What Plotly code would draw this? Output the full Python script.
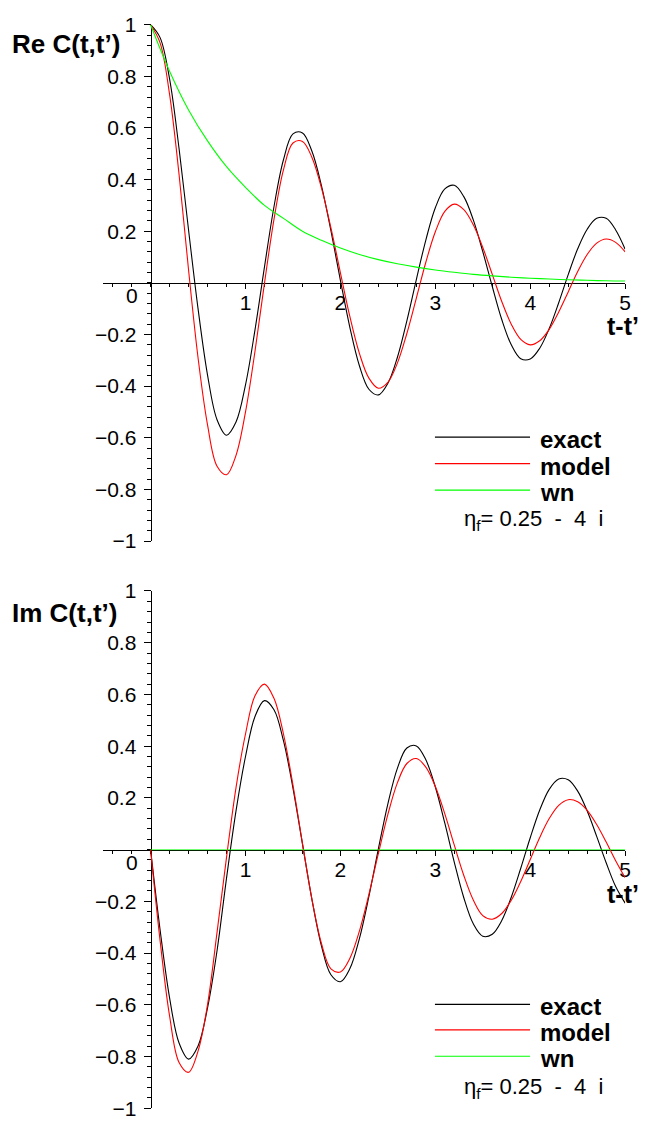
import plotly.graph_objects as go

W, H = 648, 1131

# ---------------- data ----------------
t = [0.0, 0.1, 0.2, 0.3, 0.4, 0.5, 0.6, 0.7, 0.8, 0.9,
     1.0, 1.1, 1.2, 1.3, 1.4, 1.5, 1.6, 1.7, 1.8, 1.9,
     2.0, 2.1, 2.2, 2.3, 2.4, 2.5, 2.6, 2.7, 2.8, 2.9,
     3.0, 3.1, 3.2, 3.3, 3.4, 3.5, 3.6, 3.7, 3.8, 3.9,
     4.0, 4.1, 4.2, 4.3, 4.4, 4.5, 4.6, 4.7, 4.8, 4.9, 5.0]

re_exact = [1.000, 0.950, 0.790, 0.520, 0.205, -0.100, -0.357, -0.530, -0.590, -0.539,
            -0.395, -0.182, 0.062, 0.295, 0.477, 0.577, 0.581, 0.510, 0.377, 0.202,
            0.010, -0.173, -0.321, -0.412, -0.434, -0.389, -0.289, -0.147, 0.013, 0.166,
            0.291, 0.364, 0.378, 0.334, 0.244, 0.121, -0.014, -0.142, -0.240, -0.294,
            -0.295, -0.253, -0.177, -0.077, 0.032, 0.132, 0.208, 0.250, 0.250, 0.205, 0.130]

re_model = [1.000, 0.930, 0.730, 0.420, 0.050, -0.290, -0.550, -0.710, -0.743, -0.668,
            -0.500, -0.265, -0.001, 0.246, 0.438, 0.542, 0.548, 0.486, 0.368, 0.213,
            0.039, -0.131, -0.273, -0.369, -0.408, -0.385, -0.311, -0.196, -0.059, 0.080,
            0.198, 0.277, 0.305, 0.284, 0.225, 0.137, 0.033, -0.072, -0.160, -0.219,
            -0.240, -0.224, -0.180, -0.113, -0.035, 0.044, 0.110, 0.154, 0.170, 0.157, 0.120]

t_wn = [0.0, 0.2, 0.4, 0.6, 0.8, 1.0, 1.2, 1.4, 1.6, 1.8, 2.0, 2.2, 2.4,
        2.6, 2.8, 3.0, 3.2, 3.4, 3.6, 3.8, 4.0, 4.2, 4.4, 4.6, 4.8, 5.0]
re_wn = [1.00, 0.82, 0.67, 0.55, 0.45, 0.37, 0.30, 0.25, 0.20, 0.165, 0.135, 0.11, 0.09,
         0.074, 0.061, 0.050, 0.041, 0.033, 0.027, 0.022, 0.018, 0.015, 0.012, 0.010, 0.008, 0.007]

im_exact = [0.000, -0.310, -0.573, -0.748, -0.810, -0.759, -0.612, -0.391, -0.110, 0.150,
            0.360, 0.515, 0.576, 0.541, 0.421, 0.238, 0.022, -0.193, -0.372, -0.484,
            -0.511, -0.460, -0.344, -0.181, 0.003, 0.177, 0.314, 0.393, 0.401, 0.347,
            0.242, 0.102, -0.049, -0.186, -0.287, -0.335, -0.327, -0.274, -0.184, -0.072,
            0.046, 0.153, 0.233, 0.273, 0.270, 0.226, 0.149, 0.051, -0.051, -0.143, -0.207]

im_model = [0.000, -0.352, -0.643, -0.823, -0.861, -0.779, -0.599, -0.320, -0.030, 0.240,
            0.447, 0.595, 0.640, 0.585, 0.447, 0.249, 0.024, -0.192, -0.363, -0.461,
            -0.473, -0.420, -0.315, -0.173, -0.015, 0.136, 0.258, 0.333, 0.352, 0.319,
            0.244, 0.138, 0.017, -0.100, -0.195, -0.255, -0.269, -0.247, -0.196, -0.123,
            -0.038, 0.047, 0.120, 0.171, 0.193, 0.185, 0.152, 0.097, 0.029, -0.043, -0.109]

im_wn = [0.0, 0.0, 0.0, 0.0, 0.0, 0.0, 0.0, 0.0, 0.0, 0.0, 0.0, 0.0, 0.0,
         0.0, 0.0, 0.0, 0.0, 0.0, 0.0, 0.0, 0.0, 0.0, 0.0, 0.0, 0.0, 0.0]

x_tickvals = [1, 2, 3, 4, 5]
x_ticktext = ["1", "2", "3", "4", "5"]
y_tickvals = [-1, -0.8, -0.6, -0.4, -0.2, 0.2, 0.4, 0.6, 0.8, 1]
y_ticktext = ["\u22121", "\u22120.8", "\u22120.6", "\u22120.4", "\u22120.2",
              "0.2", "0.4", "0.6", "0.8", "1"]
series_names = ["exact", "model", "wn"]
eta_text = "\u03b7<sub>f</sub>= 0.25\u00a0\u00a0-\u00a0\u00a04\u00a0 i"

# ---------------- styling ----------------
FONT = "Liberation Sans, Arial, Helvetica, sans-serif"
BLACK, RED, GREEN = "#000000", "#ff0000", "#00ff00"


def px(x):
    return x / W


def py(y):
    return 1 - y / H


x_dom = [px(104.1), px(631)]
top_dom = [py(540), py(13)]
bot_dom = [py(1119), py(591)]
y0_pos = px(152)

fig = go.Figure()

line_style = dict(width=1.1, shape="spline", smoothing=1.0)
for xs, ys, col, xa, ya, op in [
    (t, re_exact, BLACK, "x", "y", 1.0),
    (t, re_model, RED, "x", "y", 1.0),
    (t_wn, re_wn, GREEN, "x", "y", 1.0),
    (t, im_exact, BLACK, "x2", "y2", 1.0),
    (t, im_model, RED, "x2", "y2", 1.0),
    (t_wn, im_wn, GREEN, "x2", "y2", 0.55),
]:
    fig.add_trace(go.Scatter(x=xs, y=ys, mode="lines", xaxis=xa, yaxis=ya,
                             line=dict(color=col, **line_style), opacity=op,
                             showlegend=False, hoverinfo="skip"))


def xaxis_def(pos):
    return dict(domain=x_dom, range=[-0.5, 5], anchor="free", position=pos,
                showline=True, linecolor=BLACK, linewidth=1, layer="below traces",
                tickmode="array", tickvals=x_tickvals, ticktext=x_ticktext,
                ticks="outside", ticklen=5, tickwidth=1, tickcolor=BLACK,
                ticklabelstandoff=-4,
                minor=dict(dtick=0.2, tick0=0, ticks="outside", ticklen=3,
                           tickwidth=1, tickcolor=BLACK),
                tickfont=dict(family=FONT, size=21, color=BLACK),
                showgrid=False, zeroline=False, fixedrange=True)


def yaxis_def(dom):
    return dict(domain=dom, range=[-1, 1], anchor="free", position=y0_pos,
                showline=True, linecolor=BLACK, linewidth=1, layer="below traces",
                tickmode="array", tickvals=y_tickvals, ticktext=y_ticktext,
                ticks="outside", ticklen=7, tickwidth=1, tickcolor=BLACK,
                ticklabelstandoff=3,
                minor=dict(dtick=0.04, tick0=0, ticks="outside", ticklen=4,
                           tickwidth=1, tickcolor=BLACK),
                tickfont=dict(family=FONT, size=21, color=BLACK),
                showgrid=False, zeroline=False, fixedrange=True)


fig.update_layout(
    width=W, height=H, margin=dict(l=0, r=0, t=0, b=0),
    paper_bgcolor="white", plot_bgcolor="white",
    xaxis=xaxis_def((top_dom[0] + top_dom[1]) / 2),
    yaxis=yaxis_def(top_dom),
    xaxis2=xaxis_def((bot_dom[0] + bot_dom[1]) / 2),
    yaxis2=yaxis_def(bot_dom),
)

ann = []
shapes = []
panels = [
    dict(title="<b>Re C(t,t\u2019)</b>", title_y=33, tlab_y=321, xr="x", yr="y",
         leg_y=[434, 461, 488], eta_y=519),
    dict(title="<b>Im C(t,t\u2019)</b>", title_y=613, tlab_y=900, xr="x2", yr="y2",
         leg_y=[1013, 1039, 1066], eta_y=1098),
]
for p in panels:
    ann.append(dict(text=p["title"], x=px(10), y=py(p["title_y"]), xref="paper", yref="paper",
                    xanchor="left", yanchor="middle", showarrow=False,
                    font=dict(family=FONT, size=26, color=BLACK)))
    ann.append(dict(text="<b>t-t\u2019</b>", x=px(647), y=py(p["tlab_y"]), xref="paper",
                    yref="paper", xanchor="right", yanchor="middle", showarrow=False,
                    font=dict(family=FONT, size=25, color=BLACK)))
    ann.append(dict(text="0", x=0, y=0, xref=p["xr"], yref=p["yr"], xanchor="right",
                    yanchor="middle", xshift=-11, yshift=-13, showarrow=False,
                    font=dict(family=FONT, size=21, color=BLACK)))
    for name, col, ly in zip(series_names, [BLACK, RED, GREEN], p["leg_y"]):
        shapes.append(dict(type="line", xref="paper", yref="paper", x0=px(439), x1=px(535),
                           y0=py(ly), y1=py(ly), line=dict(color=col, width=1.1)))
        ann.append(dict(text="<b>" + name + "</b>", x=px(544), y=py(ly + 2), xref="paper",
                        yref="paper", xanchor="left", yanchor="middle", showarrow=False,
                        height=24, borderpad=0,
                        font=dict(family=FONT, size=24, color=BLACK)))
    ann.append(dict(text=eta_text, x=px(538), y=py(p["eta_y"]), xref="paper", yref="paper",
                    xanchor="center", yanchor="middle", showarrow=False,
                    height=26, borderpad=0,
                    font=dict(family=FONT, size=22, color=BLACK)))

fig.update_layout(annotations=ann, shapes=shapes)
fig.write_html("out.html")
